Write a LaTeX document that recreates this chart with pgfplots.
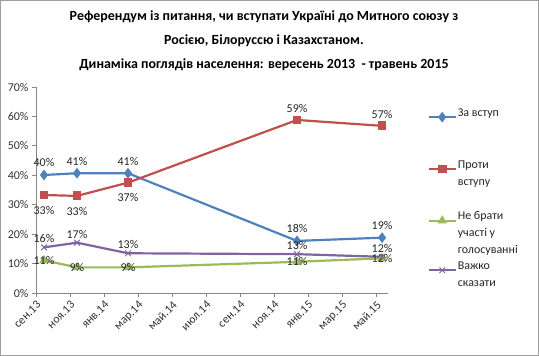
\documentclass[border=0pt]{standalone}
\usepackage{fontspec}
\setmainfont{Carlito}
\usepackage{pgfplots}
\pgfplotsset{compat=1.18}
\usepackage{pgfplotstable}
\definecolor{cblue}{HTML}{4F81BD}
\definecolor{cred}{HTML}{C0504D}
\definecolor{cgreen}{HTML}{9BBB59}
\definecolor{cpurple}{HTML}{8064A2}
\definecolor{caxis}{HTML}{868686}
\pgfplotstableread{
x y lab
0.47 40.1 40
2.41 40.7 41
5.41 40.7 41
15.35 17.7 18
20.35 18.8 19
}\tblue
\pgfplotstableread{
x y lab
0.47 33.3 33
2.41 33.0 33
5.41 37.5 37
15.35 58.8 59
20.35 56.8 57
}\tred
\pgfplotstableread{
x y lab
0.47 11.1 11
2.41 8.7 9
5.41 8.7 9
15.35 10.6 11
20.35 11.8 12
}\tgreen
\pgfplotstableread{
x y lab
0.47 15.5 16
2.41 17.1 17
5.41 13.5 13
15.35 13.2 13
20.35 12.3 12
}\tpurple
\newcommand{\lent}[1]{\smash{\parbox[t]{90bp}{\fontsize{12}{17}\selectfont #1}}}
\begin{document}
\begin{tikzpicture}
\useasboundingbox (0,0) rectangle (539bp,356bp);
\draw[caxis!80, line width=0.8bp] (0.4bp,0.4bp) rectangle (538.6bp,355.6bp);
\node[anchor=north, align=center, font=\bfseries\fontsize{14}{24}\selectfont] at (264bp,349bp)
 {Референдум із питання, чи вступати Україні до Митного союзу з\\Росією, Білоруссю і Казахстаном.\\Динаміка поглядів населення: вересень 2013~ - травень 2015};
\begin{axis}[
 at={(36bp,63bp)}, anchor=south west,
 width=352bp, height=206bp, scale only axis,
 xmin=0, xmax=20.7, ymin=0, ymax=70,
 axis lines*=left,
 axis line style={caxis, line width=0.8bp},
 tick style={caxis, line width=0.8bp},
 tick align=outside, major tick length=4bp,
 ytick={0,10,...,70},
 yticklabel={\pgfmathprintnumber{\tick}\%},
 xtick={0,2,...,20},
 xticklabels={сен.13,ноя.13,янв.14,мар.14,май.14,июл.14,сен.14,ноя.14,янв.15,мар.15,май.15},
 x tick label style={rotate=45, anchor=north east, inner sep=2bp},
 ticklabel style={font=\fontsize{12}{14}\selectfont, color=black!80},
 /pgf/number format/assume math mode=true,
 clip=false,
 every axis plot/.append style={line width=2.2bp},
 point meta=explicit symbolic,
 legend style={at={(1.112,0.872)}, anchor=north west, draw=none, fill=none,
   inner sep=0pt, row sep=45bp, nodes={inner sep=1bp, text=black!85}},
 legend cell align=left,
 legend image code/.code={\draw[mark repeat=2,mark phase=2,#1] plot coordinates {(0bp,0bp) (13.5bp,0bp) (27bp,0bp)};},
 lbl/.style={nodes near coords={\pgfplotspointmeta\%},
   nodes near coords style={font=\fontsize{12}{14}\selectfont, color=black!85, inner sep=1bp, #1}},
]
\addplot[cblue, mark=diamond*, mark size=3.6bp, lbl={anchor=south, yshift=6bp}] table[x=x,y=y,meta=lab] {\tblue};
\addlegendentry{\lent{За вступ}}
\addplot[cred, mark=square*, mark size=3.3bp] table[x=x,y=y,meta=lab] {\tred};
\addlegendentry{\lent{Проти\\вступу}}
\addplot[cgreen, mark=triangle*, mark size=3.3bp, lbl={anchor=center}] table[x=x,y=y,meta=lab] {\tgreen};
\addlegendentry{\lent{Не брати\\участі у\\голосуванні}}
\addplot[cpurple, mark=x, mark size=4bp, mark options={line width=1bp}, lbl={anchor=south, yshift=3bp}] table[x=x,y=y,meta=lab] {\tpurple};
\addlegendentry{\lent{Важко\\сказати}}
\addplot[draw=none, mark=none, forget plot, lbl={anchor=north, yshift=-9bp}] table[x=x,y=y,meta=lab, skip coords between index={3}{5}] {\tred};
\addplot[draw=none, mark=none, forget plot, lbl={anchor=south, yshift=5bp}] table[x=x,y=y,meta=lab, skip coords between index={0}{3}] {\tred};
\end{axis}
\end{tikzpicture}
\end{document}
